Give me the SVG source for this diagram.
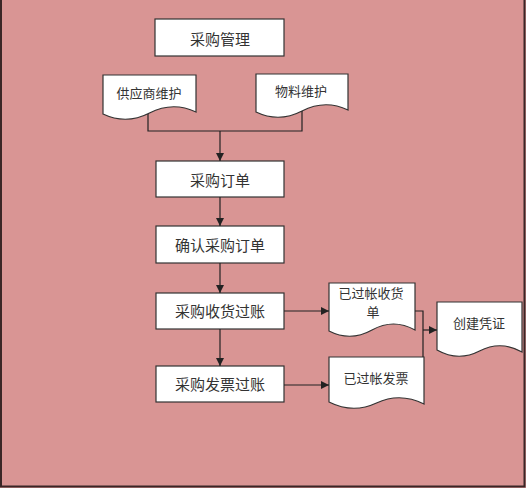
<svg xmlns="http://www.w3.org/2000/svg" width="526" height="488" viewBox="0 0 526 488">
<defs>
<style>
.box{fill:#fff;stroke:#333;stroke-width:1.2}
.t{font-family:"Noto Sans CJK SC","Liberation Sans",sans-serif;fill:#333;text-anchor:middle;dominant-baseline:central}
.big{font-size:15px}
.sm{font-size:13px}
.ln{fill:none;stroke:#222;stroke-width:1.2}
</style>
<marker id="ah" markerWidth="8" markerHeight="8" refX="8" refY="4" orient="auto" markerUnits="userSpaceOnUse">
<path d="M0,0 L8,4 L0,8 Z" fill="#222"/>
</marker>
</defs>
<rect x="0" y="0" width="526" height="488" fill="#D99594"/>
<path d="M1,0 V486.5 H524.5 V0" fill="none" stroke="#3a2626" stroke-width="2"/>
<g id="n1"><rect class="box" x="155" y="19" width="129" height="37"/><text class="t big" x="220" y="38">采购管理</text></g>
<g id="n2"><path class="box" d="M103,75 H196 V112 Q172.75,101 149.5,113 Q126.25,125 103,114 Z"/><text class="t sm" x="149" y="92">供应商维护</text></g>
<g id="n3"><path class="box" d="M256,74 H348 V110 Q325,99 302,111 Q279,123 256,112 Z"/><text class="t sm" x="301" y="90">物料维护</text></g>
<g id="n4"><rect class="box" x="156" y="161" width="128" height="36"/><text class="t big" x="220" y="179">采购订单</text></g>
<g id="n5"><rect class="box" x="156" y="226" width="128" height="37"/><text class="t big" x="220" y="244">确认采购订单</text></g>
<g id="n6"><rect class="box" x="156" y="293" width="128" height="36"/><text class="t big" x="220" y="310">采购收货过账</text></g>
<g id="n7"><rect class="box" x="156" y="366" width="128" height="36"/><text class="t big" x="220" y="383">采购发票过账</text></g>
<g id="n8"><path class="box" d="M329,283 H415 V330 Q393.5,318 372,330 Q350.5,342 329,331 Z"/><text class="t sm" x="371" y="292">已过帐收货</text><text class="t sm" x="373" y="311">单</text></g>
<g id="n9"><path class="box" d="M329,357 H424 V404 Q400,392 376.5,403 Q353,414 329,402 Z"/><text class="t sm" x="376" y="377">已过帐发票</text></g>
<g id="n10"><path class="box" d="M437,302 H522 V352 Q500.75,340 479.5,351 Q458.25,362 437,350 Z"/><text class="t sm" x="479" y="322">创建凭证</text></g>
<g id="connectors">
<path class="ln" d="M148,114 V131 H302 V111"/>
<path class="ln" d="M220,131 V161" marker-end="url(#ah)"/>
<path class="ln" d="M220,197 V226" marker-end="url(#ah)"/>
<path class="ln" d="M220,263 V293" marker-end="url(#ah)"/>
<path class="ln" d="M220,329 V366" marker-end="url(#ah)"/>
<path class="ln" d="M284,311 H329" marker-end="url(#ah)"/>
<path class="ln" d="M284,385 H329" marker-end="url(#ah)"/>
<path class="ln" d="M415,311 H423 V357"/>
<path class="ln" d="M423,330 H437" marker-end="url(#ah)"/>
</g>
</svg>
